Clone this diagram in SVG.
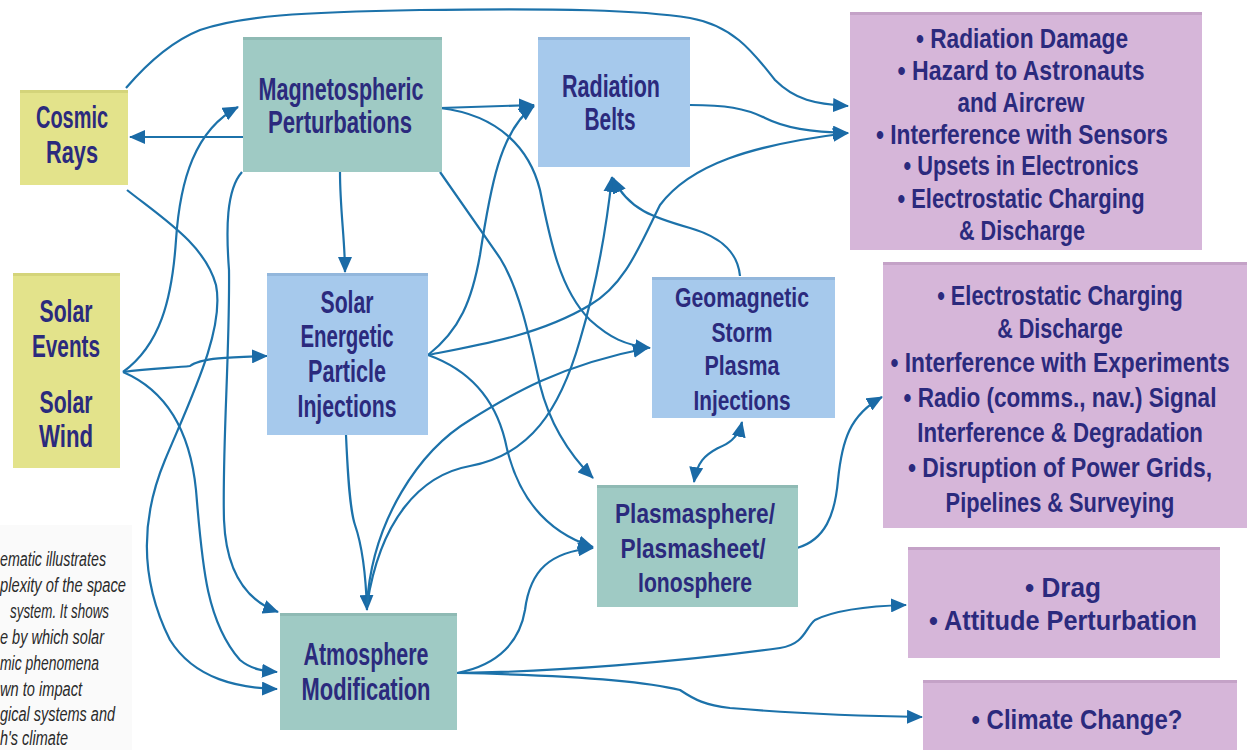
<svg xmlns="http://www.w3.org/2000/svg" width="1248" height="750" viewBox="0 0 1248 750">
<style>
.t{font-family:"Liberation Sans Narrow","Liberation Sans",Arial,sans-serif;font-weight:bold;fill:#2b2a7d;text-anchor:middle}
.n{font-size:31px}
.s{font-size:27.5px}
.p{font-size:28px}
.cap{font-family:"Liberation Sans Narrow","Liberation Sans",Arial,sans-serif;font-style:italic;font-size:20px;fill:#2a2a2a}
.yel{fill:#e3e38b}
.teal{fill:#9fcac4}
.blue{fill:#a6c9ec}
.pur{fill:#d6b6d9}
.edge{fill:none;stroke-width:3}
.c{fill:none;stroke:#1c72aa;stroke-width:2.2}
</style>
<defs>
<marker id="ah" markerUnits="userSpaceOnUse" markerWidth="16" markerHeight="14" refX="15" refY="7" orient="auto-start-reverse">
<path d="M0,0 L16,7 L0,14 z" fill="#1a6aa6"/>
</marker>
</defs>
<rect width="1248" height="750" fill="#ffffff"/>
<rect x="0" y="525" width="132" height="225" fill="#fafafa"/>

<g id="caption">
<text class="cap" x="0" y="566" textLength="106" lengthAdjust="spacingAndGlyphs">ematic illustrates</text>
<text class="cap" x="0" y="592" textLength="126" lengthAdjust="spacingAndGlyphs">plexity of the space</text>
<text class="cap" x="10" y="618" textLength="99" lengthAdjust="spacingAndGlyphs">system. It shows</text>
<text class="cap" x="0" y="644" textLength="104" lengthAdjust="spacingAndGlyphs">e by which solar</text>
<text class="cap" x="0" y="670" textLength="99" lengthAdjust="spacingAndGlyphs">mic phenomena</text>
<text class="cap" x="0" y="696" textLength="82" lengthAdjust="spacingAndGlyphs">wn to impact</text>
<text class="cap" x="0" y="721" textLength="115" lengthAdjust="spacingAndGlyphs">gical systems and</text>
<text class="cap" x="0" y="745" textLength="68" lengthAdjust="spacingAndGlyphs">h's climate</text>
</g>

<g id="connectors">
<path class="c" marker-end="url(#ah)" d="M126,88 C150,60 175,40 200,30 C240,16 300,12 420,10 C560,8 640,10 690,18 C735,26 755,55 775,80 C795,100 815,104 848,106"/>
<path class="c" marker-end="url(#ah)" d="M243,137 L130,137"/>
<path class="c" marker-end="url(#ah)" d="M440,108 C470,107 500,106 534,105"/>
<path class="c" marker-end="url(#ah)" d="M340,172 C340,210 345,240 345,272"/>
<path class="c" marker-end="url(#ah)" d="M440,108 C500,115 530,150 540,190 C550,240 560,290 590,320 C610,338 625,345 650,348"/>
<path class="c" marker-end="url(#ah)" d="M440,172 L500,258 C520,290 530,340 540,385 C550,425 570,455 593,478"/>
<path class="c" marker-end="url(#ah)" d="M123,372 C160,345 172,300 176,240 C180,180 195,130 238,107"/>
<path class="c" marker-end="url(#ah)" d="M123,372 C150,368 175,368 190,366 C200,358 230,357 267,356"/>
<path class="c" marker-end="url(#ah)" d="M123,372 C165,390 190,430 196,490 C202,560 205,620 240,660 C252,670 265,671 277,672"/>
<path class="c" marker-end="url(#ah)" d="M127,190 C165,220 205,245 216,285 C225,330 190,400 165,460 C140,520 140,580 170,640 C195,680 240,688 277,689"/>
<path class="c" marker-end="url(#ah)" d="M242,172 C226,190 226,230 229,270 C230,350 222,450 224,520 C226,570 245,600 278,612"/>
<path class="c" marker-end="url(#ah)" d="M346,435 C348,480 350,510 355,525 C362,545 366,580 367,610"/>
<path class="c" marker-end="url(#ah)" d="M428,355 C460,330 472,300 480,255 C490,190 500,130 534,106"/>
<path class="c" marker-end="url(#ah)" d="M428,355 C480,345 540,335 590,305 C625,285 640,245 660,205 C690,165 750,145 848,133"/>
<path class="c" marker-end="url(#ah)" d="M428,355 C470,370 495,400 505,440 C515,490 540,530 593,547"/>
<path class="c" marker-end="url(#ah)" d="M367,605 C372,520 420,450 470,420 C510,395 560,365 648,348"/>
<path class="c" marker-end="url(#ah)" d="M367,605 C380,520 420,475 470,466 C530,455 560,410 580,340 C595,290 605,240 612,177"/>
<path class="c" marker-end="url(#ah)" d="M740,276 C738,255 725,238 690,228 C655,218 628,210 613,178"/>
<path class="c" marker-end="url(#ah)" d="M690,105 C725,105 745,108 765,118 C785,128 810,132 848,133"/>
<path class="c" marker-start="url(#ah)" marker-end="url(#ah)" d="M742,422 C738,440 725,445 718,448 C705,455 697,462 694,482"/>
<path class="c" marker-end="url(#ah)" d="M797,548 C825,540 835,515 838,480 C842,440 850,415 882,397"/>
<path class="c" marker-end="url(#ah)" d="M457,673 C500,665 520,640 525,610 C530,570 550,552 593,548"/>
<path class="c" marker-end="url(#ah)" d="M457,673 C550,672 680,662 780,648 C805,644 805,628 815,620 C835,610 870,606 906,605"/>
<path class="c" marker-end="url(#ah)" d="M457,673 C560,675 640,680 680,690 C695,700 705,705 730,708 C800,714 860,716 922,717"/>
</g>

<g id="cosmic-rays">
<rect class="yel" x="20" y="90" width="108" height="95"/>
<path class="edge" stroke="#d4d47a" d="M20,91.5 H128"/>
<text class="t n" x="72" y="128" textLength="72" lengthAdjust="spacingAndGlyphs">Cosmic</text>
<text class="t n" x="72" y="163" textLength="52" lengthAdjust="spacingAndGlyphs">Rays</text>
</g>

<g id="magnetospheric">
<rect class="teal" x="243" y="37" width="199" height="135"/>
<path class="edge" stroke="#8fbab4" d="M243,38.5 H442"/>
<text class="t n" x="341" y="100" textLength="165" lengthAdjust="spacingAndGlyphs">Magnetospheric</text>
<text class="t n" x="340" y="133" textLength="144" lengthAdjust="spacingAndGlyphs">Perturbations</text>
</g>

<g id="radiation-belts">
<rect class="blue" x="538" y="37" width="152" height="130"/>
<path class="edge" stroke="#93b7dc" d="M538,38.5 H690"/>
<text class="t n" x="611" y="97" textLength="98" lengthAdjust="spacingAndGlyphs">Radiation</text>
<text class="t n" x="610" y="130" textLength="51" lengthAdjust="spacingAndGlyphs">Belts</text>
</g>

<g id="effects-radiation">
<rect class="pur" x="850" y="12" width="352" height="238"/>
<path class="edge" stroke="#c4a2c7" d="M850,13.5 H1202"/>
<text class="t p" x="1022" y="48" textLength="212" lengthAdjust="spacingAndGlyphs">• Radiation Damage</text>
<text class="t p" x="1021" y="80" textLength="247" lengthAdjust="spacingAndGlyphs">• Hazard to Astronauts</text>
<text class="t p" x="1021" y="112" textLength="127" lengthAdjust="spacingAndGlyphs">and Aircrew</text>
<text class="t p" x="1022" y="144" textLength="292" lengthAdjust="spacingAndGlyphs">• Interference with Sensors</text>
<text class="t p" x="1021" y="175" textLength="235" lengthAdjust="spacingAndGlyphs">• Upsets in Electronics</text>
<text class="t p" x="1021" y="208" textLength="247" lengthAdjust="spacingAndGlyphs">• Electrostatic Charging</text>
<text class="t p" x="1022" y="240" textLength="126" lengthAdjust="spacingAndGlyphs">&amp; Discharge</text>
</g>

<g id="solar-events">
<rect class="yel" x="13" y="273" width="107" height="195"/>
<path class="edge" stroke="#d4d47a" d="M13,274.5 H120"/>
<text class="t n" x="66" y="322" textLength="53" lengthAdjust="spacingAndGlyphs">Solar</text>
<text class="t n" x="66" y="357" textLength="68" lengthAdjust="spacingAndGlyphs">Events</text>
<text class="t n" x="66" y="413" textLength="53" lengthAdjust="spacingAndGlyphs">Solar</text>
<text class="t n" x="66" y="447" textLength="54" lengthAdjust="spacingAndGlyphs">Wind</text>
</g>

<g id="sep-injections">
<rect class="blue" x="267" y="273" width="161" height="162"/>
<path class="edge" stroke="#93b7dc" d="M267,274.5 H428"/>
<text class="t n" x="347" y="313" textLength="53" lengthAdjust="spacingAndGlyphs">Solar</text>
<text class="t n" x="347" y="347" textLength="93" lengthAdjust="spacingAndGlyphs">Energetic</text>
<text class="t n" x="347" y="382" textLength="78" lengthAdjust="spacingAndGlyphs">Particle</text>
<text class="t n" x="347" y="417" textLength="99" lengthAdjust="spacingAndGlyphs">Injections</text>
</g>

<g id="geomagnetic-storm">
<rect class="blue" x="652" y="277" width="183" height="141"/>
<path class="edge" stroke="#93b7dc" d="M652,278.5 H835"/>
<text class="t s" x="742" y="307" textLength="134" lengthAdjust="spacingAndGlyphs">Geomagnetic</text>
<text class="t s" x="742" y="342" textLength="61" lengthAdjust="spacingAndGlyphs">Storm</text>
<text class="t s" x="742" y="375" textLength="75" lengthAdjust="spacingAndGlyphs">Plasma</text>
<text class="t s" x="742" y="410" textLength="97" lengthAdjust="spacingAndGlyphs">Injections</text>
</g>

<g id="effects-plasma">
<rect class="pur" x="883" y="262" width="364" height="266"/>
<path class="edge" stroke="#c4a2c7" d="M883,263.5 H1247"/>
<g transform="translate(1060,0) scale(0.8,1)">
<text class="t p" x="0" y="305" textLength="307" lengthAdjust="spacingAndGlyphs">• Electrostatic Charging</text>
<text class="t p" x="0" y="338" textLength="157" lengthAdjust="spacingAndGlyphs">&amp; Discharge</text>
<text class="t p" x="0" y="372" textLength="424" lengthAdjust="spacingAndGlyphs">• Interference with Experiments</text>
<text class="t p" x="0" y="407" textLength="391" lengthAdjust="spacingAndGlyphs">• Radio (comms., nav.) Signal</text>
<text class="t p" x="0" y="442" textLength="357" lengthAdjust="spacingAndGlyphs">Interference &amp; Degradation</text>
<text class="t p" x="0" y="477" textLength="380" lengthAdjust="spacingAndGlyphs">• Disruption of Power Grids,</text>
<text class="t p" x="0" y="512" textLength="286" lengthAdjust="spacingAndGlyphs">Pipelines &amp; Surveying</text>
</g>
</g>

<g id="plasmasphere">
<rect class="teal" x="597" y="485" width="201" height="122"/>
<path class="edge" stroke="#8fbab4" d="M597,486.5 H798"/>
<text class="t s" x="695" y="523" textLength="160" lengthAdjust="spacingAndGlyphs">Plasmasphere/</text>
<text class="t s" x="693" y="558" textLength="145" lengthAdjust="spacingAndGlyphs">Plasmasheet/</text>
<text class="t s" x="695" y="592" textLength="114" lengthAdjust="spacingAndGlyphs">Ionosphere</text>
</g>

<g id="atmosphere">
<rect class="teal" x="280" y="613" width="177" height="117"/>
<path class="edge" stroke="#8fbab4" d="M280,614.5 H457"/>
<text class="t n" x="366" y="665" textLength="125" lengthAdjust="spacingAndGlyphs">Atmosphere</text>
<text class="t n" x="366" y="700" textLength="129" lengthAdjust="spacingAndGlyphs">Modification</text>
</g>

<g id="effects-drag">
<rect class="pur" x="908" y="547" width="312" height="111"/>
<path class="edge" stroke="#c4a2c7" d="M908,548.5 H1220"/>
<text class="t p" x="1063" y="597" textLength="76" lengthAdjust="spacingAndGlyphs">• Drag</text>
<text class="t p" x="1063" y="630" textLength="268" lengthAdjust="spacingAndGlyphs">• Attitude Perturbation</text>
</g>

<g id="effects-climate">
<rect class="pur" x="923" y="680" width="314" height="70"/>
<path class="edge" stroke="#c4a2c7" d="M923,681.5 H1237"/>
<text class="t p" x="1077" y="729" textLength="211" lengthAdjust="spacingAndGlyphs">• Climate Change?</text>
</g>
</svg>
